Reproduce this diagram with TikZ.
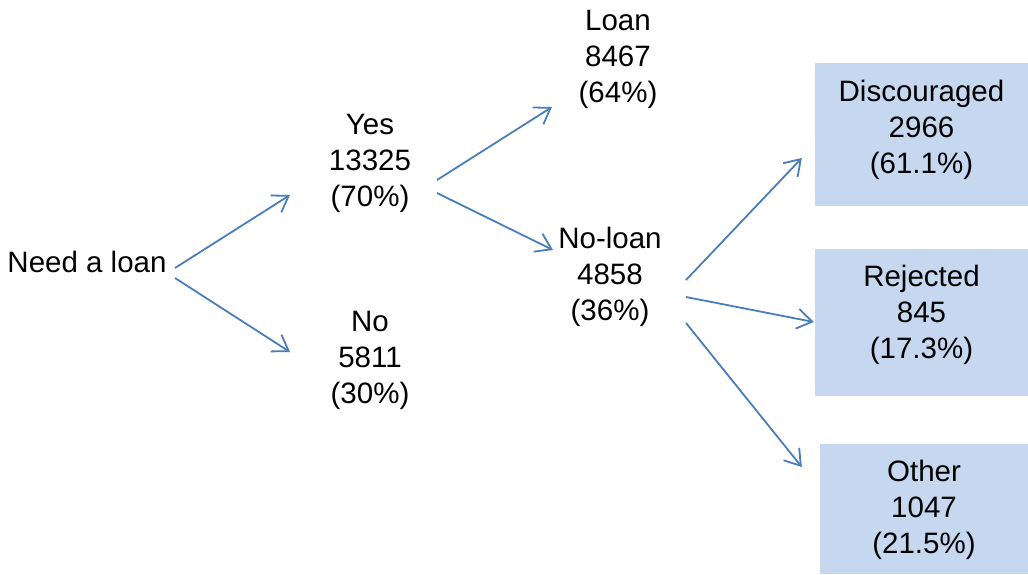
\documentclass[tikz,border=0pt]{standalone}
\usepackage{fontspec}
\setmainfont{Liberation Sans}
\usetikzlibrary{arrows.meta}
\definecolor{arrowblue}{HTML}{4A7EBB}
\definecolor{boxfill}{HTML}{C6D8EF}
\begin{document}
\begin{tikzpicture}[x=1pt,y=-1pt,
  lbl/.style={align=center,inner sep=0pt,font=\fontsize{29.5}{36}\selectfont},
  outbox/.style={fill=boxfill,draw=none,inner sep=0pt},
  conn/.style={draw=arrowblue,line width=1.8pt,-{Straight Barb[length=15pt,width=20pt,line width=1.8pt]}}]
\useasboundingbox (0,0) rectangle (1028,574);
\node[lbl] (need) at (87,262) {Need a loan};
\node[lbl] (yes) at (370,163) {Yes\\13325\\(70\%)};
\node[lbl] (no) at (370,360) {No\\5811\\(30\%)};
\node[lbl] (loan) at (618,59.5) {Loan\\8467\\(64\%)};
\node[lbl] (noloan) at (610,276.5) {No-loan\\4858\\(36\%)};
\node[outbox,minimum width=213pt,minimum height=143pt] (disc) at (921.5,134.5) {};
\node[outbox,minimum width=213pt,minimum height=147pt] (rej) at (921.5,322.5) {};
\node[outbox,minimum width=208pt,minimum height=130pt] (oth) at (924,509) {};
\node[lbl] (disctext) at (921.5,129.5) {Discouraged\\2966\\(61.1\%)};
\node[lbl] (rejtext) at (921.5,314.5) {Rejected\\845\\(17.3\%)};
\node[lbl] (othtext) at (924,510) {Other\\1047\\(21.5\%)};
\draw[conn] ([shift={(88,6)}]need.center) -- ([shift={(-80,32)}]yes.center);
\draw[conn] ([shift={(88,16)}]need.center) -- ([shift={(-80,-8)}]no.center);
\draw[conn] ([shift={(67,17)}]yes.center) -- ([shift={(-66,47.5)}]loan.center);
\draw[conn] ([shift={(67,30)}]yes.center) -- ([shift={(-57,-26.5)}]noloan.center);
\draw[conn] ([shift={(76,3.5)}]noloan.center) -- ([shift={(-13,23.5)}]disc.west);
\draw[conn] ([shift={(76,20.5)}]noloan.center) -- ([shift={(-1,-0.5)}]rej.west);
\draw[conn] ([shift={(76,46.5)}]noloan.center) -- ([shift={(-18,-42)}]oth.west);
\end{tikzpicture}
\end{document}
